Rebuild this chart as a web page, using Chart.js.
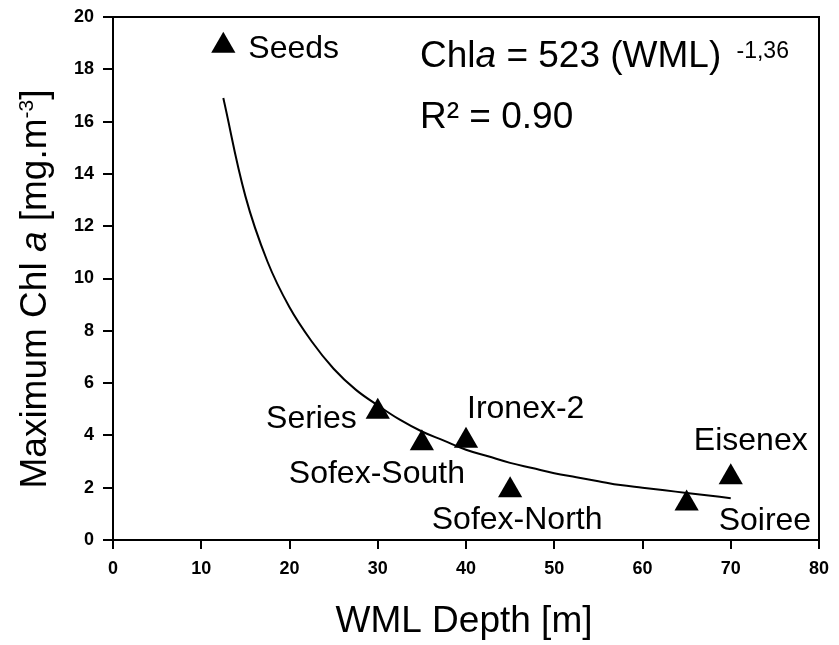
<!DOCTYPE html>
<html>
<head>
<meta charset="utf-8">
<script src="https://cdn.jsdelivr.net/npm/chart.js@4"></script>
<style>
  body { margin: 0; background: #fff; }
  #wrap { width: 839px; height: 645px; position: relative; }
</style>
</head>
<body>
<div id="wrap"><canvas id="chlChart"></canvas></div>
<script>
// experiments
var names = ["Seeds", "Series", "Sofex-South", "Ironex-2", "Sofex-North", "Soiree", "Eisenex"];
var wmlDepth = [12.5, 30, 35, 40, 45, 65, 70];
var maxChl = [18.9, 4.9, 3.7, 3.8, 1.9, 1.4, 2.4];

// fitted curve
var fitX = [12.5, 15, 17.5, 20, 22.5, 25, 27.5, 30, 32.5, 35, 37.5, 40, 42.5, 45, 47.5, 50, 52.5, 55, 57.5, 60, 62.5, 65, 67.5, 70];
var fitY = [16.9, 13.15, 10.65, 8.9, 7.6, 6.55, 5.75, 5.15, 4.6, 4.15, 3.8, 3.45, 3.2, 2.95, 2.75, 2.55, 2.4, 2.25, 2.1, 2.0, 1.9, 1.8, 1.7, 1.6];

var xTicks = [0, 10, 20, 30, 40, 50, 60, 70, 80];
var yTicks = [0, 2, 4, 6, 8, 10, 12, 14, 16, 18, 20];

// label placement (pixel offsets from the marker)
var labelOffsets = [
    { dx: 25, dy: 12, align: "left" },
    { dx: -21, dy: 16, align: "right" },
    { dx: -45, dy: 40, align: "center" },
    { dx: 1, dy: -23, align: "left" },
    { dx: 7, dy: 39, align: "center" },
    { dx: 32, dy: 27, align: "left" },
    { dx: 20, dy: -27, align: "center" }
];

var FONT = "'Liberation Sans', Arial, sans-serif";
Chart.defaults.font.family = FONT;
Chart.defaults.color = "#000";

function pts(xs, ys) {
    var out = [];
    for (var i = 0; i < xs.length; i++) out.push({ x: xs[i], y: ys[i] });
    return out;
}

// draw a row of text pieces, each {t, size, style, rise, gap}
function richText(ctx, parts, x, y, align) {
    var total = 0;
    parts.forEach(function (p) {
        ctx.font = (p.style || "normal") + " " + p.size + "px " + FONT;
        p.w = ctx.measureText(p.t).width + (p.gap || 0);
        total += p.w;
    });
    var cx = x;
    if (align == "center") cx = x - total / 2;
    if (align == "right") cx = x - total;
    ctx.textAlign = "left";
    ctx.textBaseline = "alphabetic";
    parts.forEach(function (p) {
        ctx.font = (p.style || "normal") + " " + p.size + "px " + FONT;
        ctx.fillText(p.t, cx + (p.gap || 0), y - (p.rise || 0));
        cx += p.w;
    });
}

var extras = {
    id: "extras",
    afterDraw: function (chart) {
        var ctx = chart.ctx;
        var a = chart.chartArea;
        var xs = chart.scales.x, ys = chart.scales.y;
        ctx.save();
        ctx.fillStyle = "#000";
        ctx.strokeStyle = "#000";
        ctx.lineWidth = 2;
        // top and right frame
        ctx.beginPath();
        ctx.moveTo(a.left, a.top);
        ctx.lineTo(a.right, a.top);
        ctx.lineTo(a.right, a.bottom);
        ctx.stroke();

        // point labels
        for (var i = 0; i < names.length; i++) {
            var px = xs.getPixelForValue(wmlDepth[i]);
            var py = ys.getPixelForValue(maxChl[i]);
            var o = labelOffsets[i];
            richText(ctx, [{ t: names[i], size: 32 }], px + o.dx, py + o.dy, o.align);
        }

        // equation
        richText(ctx, [
            { t: "Chl", size: 37 },
            { t: "a", size: 37, style: "italic" },
            { t: " = 523 (WML) ", size: 37 },
            { t: "-1,36", size: 23, rise: 9, gap: 5 }
        ], 420, 67, "left");
        richText(ctx, [{ t: "R\u00b2 = 0.90", size: 37 }], 420, 128, "left");

        // axis titles
        richText(ctx, [{ t: "WML Depth [m]", size: 37 }], 464, 632, "center");
        ctx.translate(46, 289);
        ctx.rotate(-Math.PI / 2);
        richText(ctx, [
            { t: "Maximum Chl ", size: 37 },
            { t: "a", size: 37, style: "italic" },
            { t: " [mg.m", size: 37 },
            { t: "-3", size: 21, rise: 13 },
            { t: "]", size: 37 }
        ], 0, 0, "center");
        ctx.restore();
    }
};

var chlChart = new Chart(document.getElementById("chlChart"), {
    type: "scatter",
    data: {
        datasets: [{
            label: "fit",
            data: pts(fitX, fitY),
            showLine: true,
            borderColor: "#000",
            borderWidth: 2,
            pointRadius: 0,
            tension: 0.4,
            order: 2
        }, {
            label: "experiments",
            data: pts(wmlDepth, maxChl),
            pointStyle: "triangle",
            pointRadius: 14,
            pointBackgroundColor: "#000",
            pointBorderWidth: 0,
            showLine: false,
            order: 1
        }]
    },
    options: {
        responsive: true,
        maintainAspectRatio: false,
        animation: false,
        layout: { padding: { top: 17, right: 20, left: 0, bottom: 0 } },
        plugins: { legend: { display: false }, tooltip: { enabled: false } },
        scales: {
            x: {
                type: "linear",
                min: 0,
                max: 80,
                afterBuildTicks: function (s) { s.ticks = xTicks.map(function (v) { return { value: v }; }); },
                afterFit: function (s) { s.height = 105; },
                grid: { drawOnChartArea: false, tickLength: 9, color: "#000", lineWidth: 2 },
                border: { color: "#000", width: 2 },
                ticks: { font: { size: 18, weight: "bold" }, padding: 9, color: "#000", maxRotation: 0 }
            },
            y: {
                type: "linear",
                min: 0,
                max: 20,
                afterBuildTicks: function (s) { s.ticks = yTicks.map(function (v) { return { value: v }; }); },
                afterFit: function (s) {
                    s.width = 113;
                    s.paddingTop = 0;
                    s.paddingBottom = 0;
                },
                grid: { drawOnChartArea: false, tickLength: 10, color: "#000", lineWidth: 2 },
                border: { color: "#000", width: 2 },
                ticks: { font: { size: 18, weight: "bold" }, padding: 9, color: "#000" }
            }
        }
    },
    plugins: [extras]
});
</script>
</body>
</html>
